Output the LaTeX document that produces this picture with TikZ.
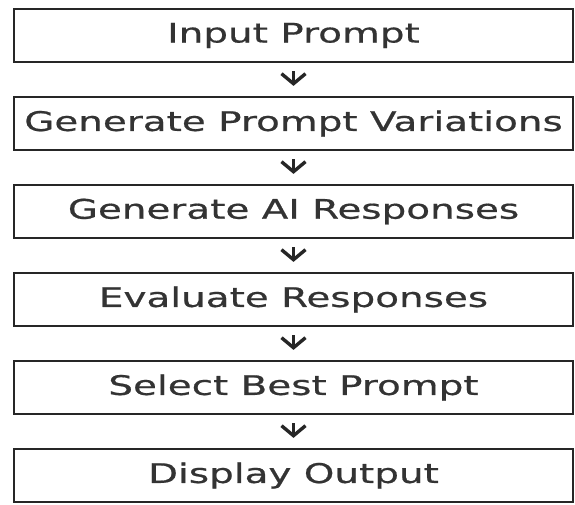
\documentclass[tikz,border=0pt]{standalone}
\usepackage{fontspec}
\setmainfont[FakeStretch=1.44,FakeBold=0.6]{DejaVu Sans}
\usetikzlibrary{arrows.meta}
\begin{document}
\begin{tikzpicture}[x=1pt,y=1pt,
  stepbox/.style={draw=black!85,line width=2.2pt,minimum width=559pt,minimum height=53pt,inner sep=0pt,
    text=black!80,font=\fontsize{27}{27}\selectfont},
  flow/.style={draw=black!85,line width=2.4pt,shorten <=8pt,shorten >=10pt,
    -{Straight Barb[length=10pt,width=24pt,line width=3.4pt]}}]
\useasboundingbox (0,0) rectangle (575,-504);
\node[stepbox] (n1) at (293.5,-35.5) {Input Prompt};
\node[stepbox] (n2) at (293.5,-123.5) {Generate Prompt Variations};
\node[stepbox] (n3) at (293.5,-211.5) {Generate AI Responses};
\node[stepbox] (n4) at (293.5,-299.5) {Evaluate Responses};
\node[stepbox] (n5) at (293.5,-387.5) {Select Best Prompt};
\node[stepbox] (n6) at (293.5,-475.5) {Display Output};
\draw[flow] (n1.south) -- (n2.north);
\draw[flow] (n2.south) -- (n3.north);
\draw[flow] (n3.south) -- (n4.north);
\draw[flow] (n4.south) -- (n5.north);
\draw[flow] (n5.south) -- (n6.north);
\end{tikzpicture}
\end{document}
